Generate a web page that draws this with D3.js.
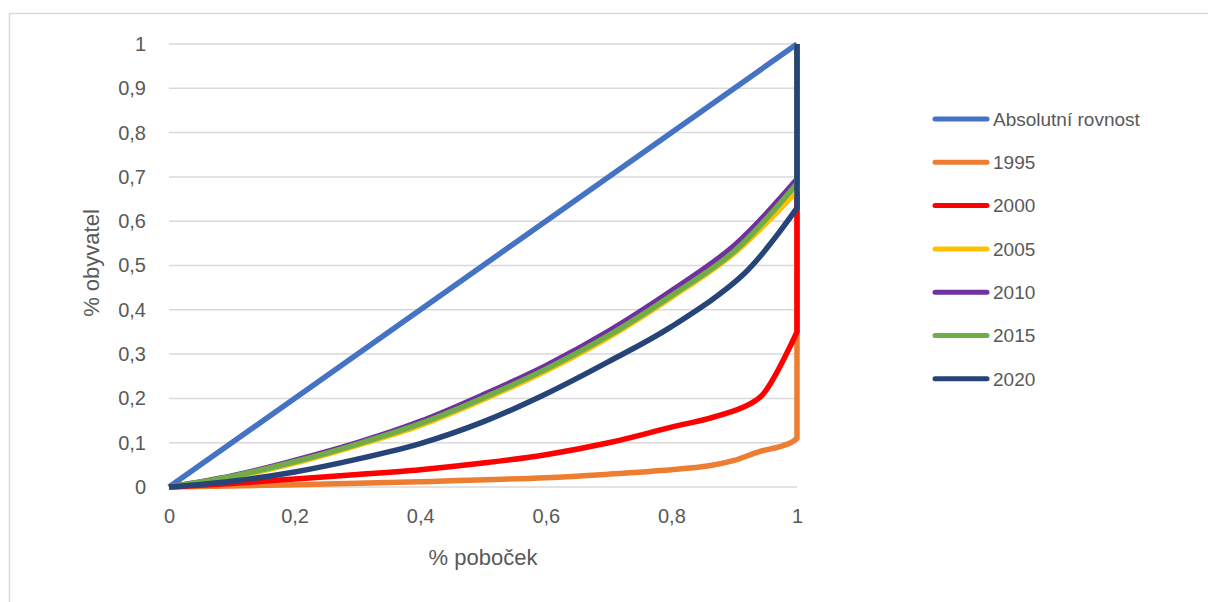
<!DOCTYPE html>
<html><head><meta charset="utf-8">
<script src="https://cdn.jsdelivr.net/npm/d3@7"></script>
<style>body{margin:0;background:#fff}svg{display:block}</style>
</head><body>
<svg id="c" width="1208" height="602"></svg>
<script>
const seriesNames = ["Absolutní rovnost","1995","2000","2005","2010","2015","2020"];
const seriesColors = ["#4472C4","#ED7D31","#FF0000","#FFC000","#7030A0","#70AD47","#264478"];
const xTicks = [0,0.2,0.4,0.6,0.8,1];
const yTicks = [0,0.1,0.2,0.3,0.4,0.5,0.6,0.7,0.8,0.9,1];

const eqX = [0,1];
const eqY = [0,1];
const x1995 = [0,0.2,0.4,0.6,0.7,0.8,0.86,0.9,0.94,0.97,0.99,1,1,1];
const y1995 = [0,0.005,0.012,0.021,0.029,0.039,0.048,0.06,0.08,0.09,0.1,0.11,0.35,1];
const x2000 = [0,0.1,0.2,0.3,0.4,0.5,0.6,0.7,0.8,0.86,0.914,0.945,1,1];
const y2000 = [0,0.008,0.018,0.028,0.039,0.054,0.073,0.1,0.135,0.155,0.18,0.208,0.35,1];
const x2005 = [0,0.1,0.2,0.3,0.4,0.5,0.6,0.7,0.8,0.9,1,1];
const y2005 = [0,0.022,0.054,0.094,0.139,0.197,0.262,0.338,0.428,0.528,0.668,1];
const x2010 = [0,0.1,0.2,0.3,0.4,0.5,0.6,0.7,0.8,0.9,1,1];
const y2010 = [0,0.025,0.06,0.1,0.148,0.208,0.274,0.352,0.443,0.545,0.695,1];
const x2015 = [0,0.1,0.2,0.3,0.4,0.5,0.6,0.7,0.8,0.9,1,1];
const y2015 = [0,0.024,0.057,0.097,0.143,0.201,0.266,0.342,0.432,0.532,0.685,1];
const x2020 = [0,0.1,0.2,0.3,0.4,0.5,0.6,0.7,0.8,0.917,1,1];
const y2020 = [0,0.013,0.034,0.063,0.098,0.147,0.21,0.283,0.362,0.483,0.63,1];

const seriesX = [eqX,x1995,x2000,x2005,x2010,x2015,x2020];
const seriesY = [eqY,y1995,y2000,y2005,y2010,y2015,y2020];

const svg = d3.select("#c");
const font = "'Liberation Sans', Arial, sans-serif";
const textColor = "#595959";

// chart border (left & top visible)
svg.append("path").attr("d","M9.5,602 L9.5,13.5 L1208,13.5")
  .attr("fill","none").attr("stroke","#d9d9d9").attr("stroke-width",1.5);

const x = d3.scaleLinear().domain([0,1]).range([169,797]);
const y = d3.scaleLinear().domain([0,1]).range([487,44]);

// gridlines
svg.append("g").selectAll("line").data(yTicks).join("line")
  .attr("x1",x(0)).attr("x2",x(1))
  .attr("y1",d=>y(d)).attr("y2",d=>y(d))
  .attr("stroke","#d9d9d9").attr("stroke-width",1.5);

const fmt = d => String(+d.toFixed(1)).replace(".",",");

const yAxis = d3.axisLeft(y).tickValues(yTicks).tickFormat(fmt).tickSize(0).tickPadding(23);
const gy = svg.append("g").attr("transform",`translate(${x(0)},0)`).call(yAxis);
gy.select(".domain").remove();
gy.selectAll("text").attr("font-family",font).attr("font-size",20).attr("fill",textColor);

const xAxis = d3.axisBottom(x).tickValues(xTicks).tickFormat(fmt).tickSize(0).tickPadding(22);
const gx = svg.append("g").attr("transform",`translate(0,${y(0)})`).call(xAxis);
gx.select(".domain").remove();
gx.selectAll("text").attr("font-family",font).attr("font-size",20).attr("fill",textColor);

// axis titles
svg.append("text").attr("x",483).attr("y",565).attr("text-anchor","middle")
  .attr("font-family",font).attr("font-size",22).attr("fill",textColor).text("% poboček");
svg.append("text").attr("transform","translate(99,263) rotate(-90)").attr("text-anchor","middle")
  .attr("font-family",font).attr("font-size",22).attr("fill",textColor).text("% obyvatel");

// lines: smooth part up to the first point at x=1, straight vertical part after it
const smooth = d3.line().x(d=>x(d[0])).y(d=>y(d[1])).curve(d3.curveCatmullRom.alpha(0.5));
const straight = d3.line().x(d=>x(d[0])).y(d=>y(d[1]));
const gl = svg.append("g");
seriesNames.forEach((n,i)=>{
  const pts = seriesX[i].map((v,j)=>[v,seriesY[i][j]]);
  const k = pts.findIndex(p=>p[0]>=1);
  const d = smooth(pts.slice(0,k+1)) + (k < pts.length-1 ? straight(pts.slice(k)).replace(/^M/,"L") : "");
  gl.append("path").attr("d",d).attr("fill","none")
    .attr("stroke",seriesColors[i]).attr("stroke-width",5.5)
    .attr("stroke-linejoin","round").attr("stroke-linecap","butt");
});

// legend
const lg = svg.append("g");
seriesNames.forEach((n,i)=>{
  const yy = 119 + i*43.3;
  lg.append("line").attr("x1",935).attr("x2",987).attr("y1",yy).attr("y2",yy)
    .attr("stroke",seriesColors[i]).attr("stroke-width",5).attr("stroke-linecap","round");
  lg.append("text").attr("x",993).attr("y",yy).attr("dy","0.36em")
    .attr("font-family",font).attr("font-size",19).attr("fill",textColor).text(n);
});
</script>
</body></html>
